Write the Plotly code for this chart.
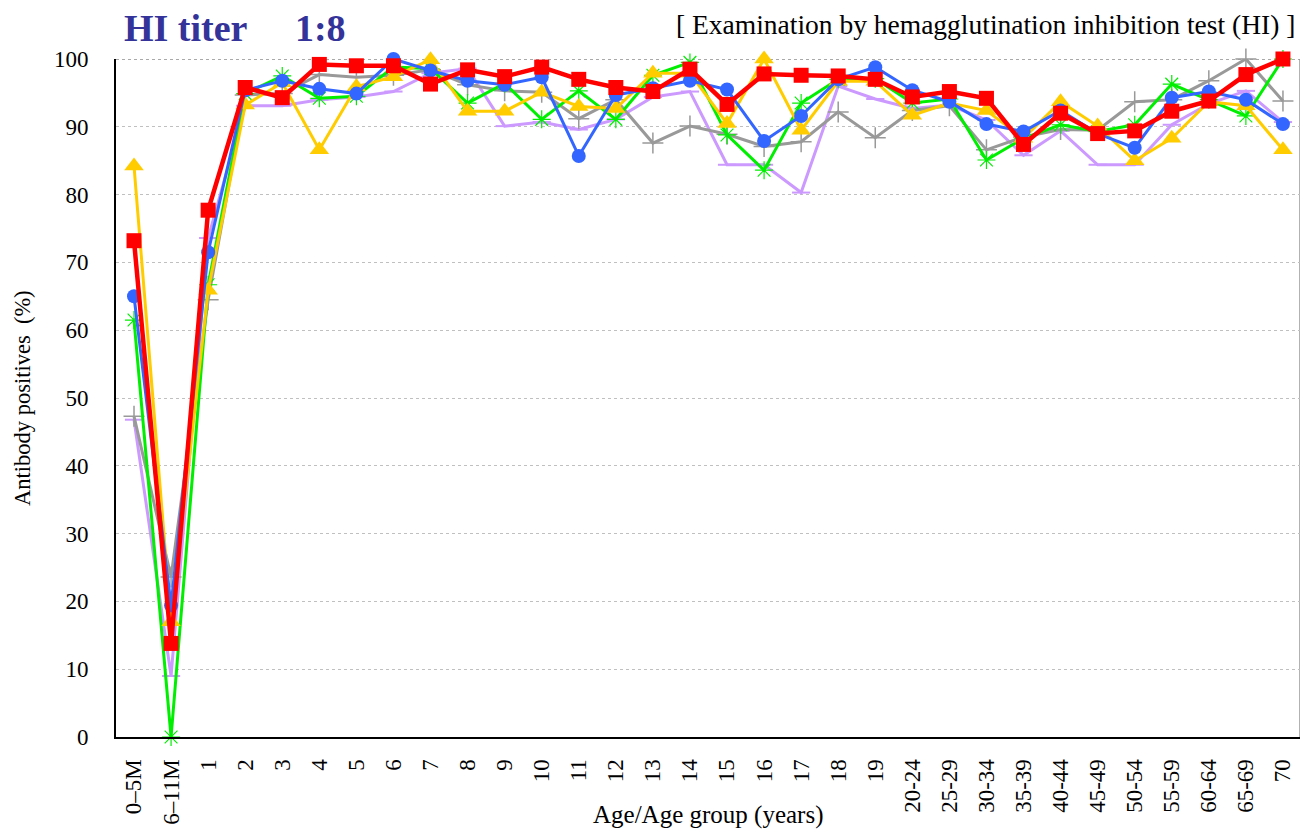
import plotly.graph_objects as go

categories = ["0–5M", "6–11M", "1", "2", "3", "4", "5", "6", "7", "8", "9", "10",
              "11", "12", "13", "14", "15", "16", "17", "18", "19",
              "20-24", "25-29", "30-34", "35-39", "40-44", "45-49", "50-54",
              "55-59", "60-64", "65-69", "70"]

purple_vals = [46.8, 9.0, 73.6, 93.1, 93.1, 94.0, 94.4, 95.2, 97.9, 98.6, 90.1, 90.7,
               89.6, 91.1, 94.4, 95.2, 84.4, 84.4, 80.3, 96.0, 94.1,
               92.7, 93.2, 91.0, 85.8, 89.4, 84.4, 84.4, 90.3, 93.4, 95.3, 90.7]
gray_vals = [47.3, 23.6, 64.5, 94.7, 94.9, 97.7, 97.3, 97.6, 98.4, 96.2, 95.3, 95.1,
             91.2, 94.0, 87.6, 90.1, 88.9, 87.1, 87.8, 92.2, 88.4,
             92.4, 93.1, 86.6, 88.5, 89.6, 89.5, 93.7, 94.0, 96.8, 100.0, 93.8]
green_vals = [61.5, 0.0, 66.7, 94.9, 97.5, 94.2, 94.5, 98.8, 98.6, 93.5, 96.4, 91.1,
              95.3, 91.1, 97.6, 99.5, 88.8, 83.6, 93.5, 97.0, 97.1,
              93.5, 94.1, 85.1, 88.3, 90.3, 89.3, 90.3, 96.3, 94.0, 91.6, 100.0]
yellow_vals = [84.2, 17.0, 65.9, 93.2, 96.5, 86.6, 95.9, 97.4, 99.9, 92.3, 92.3, 95.1,
               93.0, 92.7, 97.9, 97.9, 90.5, 100.0, 89.5, 96.7, 96.7,
               91.7, 93.5, 92.4, 88.3, 93.7, 90.1, 85.0, 88.3, 93.7, 93.1, 86.6]
blue_vals = [65.0, 19.4, 71.5, 95.4, 96.8, 95.6, 94.9, 100.0, 98.3, 96.8, 96.2, 97.3,
             85.7, 94.7, 95.7, 96.8, 95.5, 87.9, 91.6, 97.0, 98.8,
             95.4, 93.7, 90.4, 89.3, 92.4, 89.0, 86.9, 94.3, 95.2, 94.0, 90.4]
red_vals = [73.2, 13.8, 77.7, 95.8, 94.3, 99.2, 99.0, 99.0, 96.3, 98.4, 97.4, 98.8,
            97.0, 95.8, 95.2, 98.5, 93.3, 97.8, 97.6, 97.5, 97.0,
            94.4, 95.2, 94.2, 87.4, 92.0, 89.0, 89.4, 92.3, 93.8, 97.7, 100.0]

y_ticks = list(range(0, 101, 10))

# name, values, colour, line width, marker symbol, marker size, marker outline width
series = [
    ("purple", purple_vals, "#cc99ff", 3, "line-ew-open", 13, 2),
    ("gray", gray_vals, "#999999", 3, "cross-thin-open", 15, 1.5),
    ("green", green_vals, "#00ee00", 3, "asterisk-open", 15, 1.2),
    ("yellow", yellow_vals, "#ffcc00", 3, "triangle-up", 17, 0),
    ("blue", blue_vals, "#3366ff", 3, "circle", 14, 0),
    ("red", red_vals, "#ff0000", 4.5, "square", 15, 0),
]

fig = go.Figure()
for name, vals, color, lw, sym, size, mlw in series:
    fig.add_trace(go.Scatter(
        x=categories, y=vals, mode="lines+markers", name=name,
        line=dict(color=color, width=lw),
        marker=dict(symbol=sym, size=size, color=color,
                    line=dict(color=color, width=mlw)),
        showlegend=False, cliponaxis=False,
    ))

font_family = "Liberation Serif"

fig.update_layout(
    width=1300, height=824,
    margin=dict(l=108, r=8, t=51, b=95),
    paper_bgcolor="white", plot_bgcolor="white",
    font=dict(family=font_family, size=23, color="black"),
    xaxis=dict(
        type="category", range=[-0.486, 31.46],
        showgrid=False, showline=True, linecolor="black", linewidth=2,
        tickangle=-90, tickfont=dict(size=23), ticks="",
        ticklabelstandoff=11, zeroline=False, automargin=False,
    ),
    yaxis=dict(
        range=[0, 100], tickvals=y_ticks,
        showgrid=True, gridcolor="#c0c0c0", griddash="dot", gridwidth=1,
        showline=True, linecolor="black", linewidth=2,
        tickfont=dict(size=23), ticks="", ticklabelstandoff=21, zeroline=False,
        automargin=False,
    ),
    shapes=[
        dict(type="line", xref="paper", yref="y", x0=0, x1=1, y0=100, y1=100,
             line=dict(color="#555555", width=1, dash="dot"), layer="below"),
        dict(type="line", xref="paper", yref="paper", x0=1, x1=1, y0=0, y1=1,
             line=dict(color="#999999", width=1.5), layer="below"),
    ],
    annotations=[
        dict(text="<b>HI titer\u00a0\u00a0\u00a0\u00a0\u00a01:8</b>", xref="paper", yref="paper",
             x=0.006, y=1.0457, xanchor="left", yanchor="middle", showarrow=False,
             borderpad=0,
             font=dict(family=font_family, size=38, color="#333399")),
        dict(text="[ Examination by hemagglutination inhibition test (HI) ]",
             xref="paper", yref="paper", x=0.9975, y=1.051, xanchor="right",
             yanchor="middle", showarrow=False,
             font=dict(family=font_family, size=27.5, color="black")),
        dict(text="Antibody positives\u00a0\u00a0(%)", xref="paper", yref="paper",
             x=-0.0794, y=0.5, xanchor="center", yanchor="middle", textangle=-90,
             showarrow=False, font=dict(family=font_family, size=22.5, color="black")),
        dict(text="Age/Age group (years)", xref="paper", yref="paper",
             x=0.5, y=-0.115, xanchor="center", yanchor="middle", showarrow=False,
             font=dict(family=font_family, size=25, color="black")),
    ],
)

fig.write_html("out.html")
